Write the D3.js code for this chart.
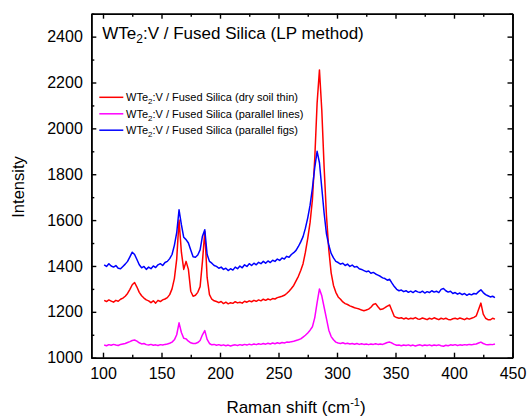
<!DOCTYPE html>
<html><head><meta charset="utf-8">
<script src="https://cdn.jsdelivr.net/npm/d3@7"></script>
<style>
body{margin:0;background:#fff;}
svg{display:block;font-family:Arial,"Liberation Sans",sans-serif;}
</style></head>
<body><svg id="c" width="528" height="417"></svg>
<script>
// Raman shift (cm-1) sampling points
const shift = [101,103,105,107,109,111,113,115,117,119,121,123,125,127,129,131,133,135,137,139,141,143,145,147,149,151,153,155,157,159,161,163,165,167,169,171,173,175,177,179,181,183,185,187,189,191,193,195,197,199,201,203,205,207,209,211,213,215,217,219,221,223,225,227,229,231,233,235,237,239,241,243,245,247,249,251,253,255,257,259,261,263,265,267,269,271,273,275,277,279,281,283,285,287,289,291,293,295,297,299,301,303,305,307,309,311,313,315,317,319,321,323,325,327,329,331,333,335,337,339,341,343,345,347,349,351,353,355,357,359,361,363,365,367,369,371,373,375,377,379,381,383,385,387,389,391,393,395,397,399,401,403,405,407,409,411,413,415,417,419,421,423,425,427,429,431,433,435];

const dryThin = [1250,1245,1252,1247,1242,1250,1246,1255,1260,1268,1280,1298,1318,1328,1308,1285,1270,1260,1252,1248,1240,1248,1238,1250,1245,1252,1256,1262,1275,1300,1345,1430,1600,1460,1385,1420,1385,1290,1268,1272,1285,1310,1420,1550,1350,1275,1255,1248,1245,1240,1245,1236,1242,1235,1240,1237,1244,1239,1242,1238,1246,1242,1248,1244,1250,1246,1252,1248,1255,1250,1256,1252,1258,1256,1262,1265,1268,1272,1280,1290,1302,1315,1335,1355,1380,1410,1460,1520,1590,1690,1870,2110,2255,2080,1830,1620,1470,1370,1315,1285,1265,1255,1243,1236,1232,1226,1222,1218,1215,1212,1208,1205,1208,1212,1220,1232,1236,1222,1210,1212,1218,1225,1230,1205,1180,1175,1172,1174,1169,1173,1168,1172,1170,1175,1169,1168,1173,1170,1166,1172,1168,1174,1170,1166,1172,1168,1172,1167,1165,1170,1172,1168,1173,1170,1166,1172,1168,1172,1176,1182,1210,1238,1190,1172,1166,1165,1172,1168];

const parLines = [1055,1052,1057,1054,1058,1055,1053,1058,1060,1062,1066,1070,1075,1077,1072,1065,1060,1062,1057,1055,1058,1054,1056,1053,1057,1055,1058,1060,1063,1068,1078,1100,1152,1110,1085,1082,1072,1065,1062,1062,1066,1075,1100,1118,1080,1062,1056,1058,1054,1057,1053,1056,1052,1055,1051,1054,1056,1053,1057,1054,1058,1055,1059,1056,1060,1057,1061,1058,1062,1059,1063,1060,1064,1061,1065,1062,1066,1064,1068,1067,1070,1072,1075,1078,1082,1090,1098,1108,1120,1135,1175,1240,1300,1270,1220,1170,1120,1092,1078,1068,1064,1062,1065,1061,1063,1060,1062,1059,1062,1058,1061,1058,1060,1057,1060,1058,1061,1058,1060,1058,1062,1066,1068,1064,1058,1054,1055,1052,1055,1053,1056,1052,1055,1051,1054,1056,1052,1055,1053,1056,1052,1055,1053,1056,1052,1050,1054,1052,1056,1054,1057,1053,1056,1054,1057,1055,1058,1056,1059,1060,1064,1068,1062,1058,1056,1058,1057,1060];

const parFigs = [1405,1398,1410,1400,1395,1402,1390,1388,1398,1408,1420,1440,1460,1450,1428,1405,1392,1398,1385,1395,1388,1400,1393,1405,1410,1402,1415,1420,1432,1450,1490,1545,1645,1580,1525,1515,1500,1470,1440,1438,1448,1470,1530,1558,1450,1420,1412,1402,1398,1390,1395,1385,1390,1380,1388,1382,1395,1388,1400,1392,1405,1398,1410,1402,1412,1405,1416,1410,1420,1412,1422,1415,1425,1420,1430,1424,1435,1430,1442,1438,1450,1458,1468,1485,1505,1528,1565,1610,1665,1740,1830,1900,1850,1740,1630,1540,1490,1455,1435,1420,1415,1408,1412,1402,1408,1398,1404,1395,1398,1388,1385,1380,1375,1378,1368,1372,1365,1360,1355,1348,1345,1338,1342,1325,1310,1298,1292,1295,1288,1292,1285,1290,1284,1292,1287,1284,1290,1282,1288,1284,1292,1286,1290,1284,1298,1302,1292,1286,1290,1280,1284,1277,1282,1275,1280,1272,1278,1274,1280,1278,1288,1296,1284,1275,1270,1265,1268,1262];

const seriesNames = ["(dry soil thin)", "(parallel lines)", "(parallel figs)"];
const seriesColors = ["#ff0000", "#ff00ff", "#0000ff"];
const xMajorTicks = [100,150,200,250,300,350,400,450];
const xMinorTicks = [125,175,225,275,325,375,425];
const yMajorTicks = [1000,1200,1400,1600,1800,2000,2200,2400];
const yMinorTicks = [1100,1300,1500,1700,1900,2100,2300,2500];

const svg = d3.select("#c");
const L = 91.3, R = 512.5, T = 13.7, B = 357.7;
const x = d3.scaleLinear().domain([90,450]).range([L,R]);
const y = d3.scaleLinear().domain([1000,2500]).range([B,T]);

// data lines
const all = [dryThin, parLines, parFigs];
const line = d3.line().x((d,i)=>x(shift[i])).y(d=>y(d));
const clip = svg.append("clipPath").attr("id","cp").append("rect")
  .attr("x",L).attr("y",T).attr("width",R-L).attr("height",B-T);
all.forEach((s,k)=>{
  svg.append("path").datum(s).attr("d",line)
    .attr("fill","none").attr("stroke",seriesColors[k])
    .attr("stroke-width",1.5).attr("stroke-linejoin","round")
    .attr("clip-path","url(#cp)");
});

// axes
function styleAxis(g){
  g.selectAll("path.domain").attr("stroke","#000").attr("stroke-width",1.6);
  g.selectAll(".tick line").attr("stroke","#000").attr("stroke-width",1.4);
  g.selectAll(".tick text").attr("fill","#000").style("font-size","16px").style("font-family","Arial,'Liberation Sans',sans-serif");
}
const gB = svg.append("g").attr("transform",`translate(0,${B})`)
  .call(d3.axisBottom(x).tickValues(xMajorTicks).tickSize(-5).tickSizeOuter(0).tickPadding(10).tickFormat(d3.format("d")));
styleAxis(gB);
const gBm = svg.append("g").attr("transform",`translate(0,${B})`)
  .call(d3.axisBottom(x).tickValues(xMinorTicks).tickSize(-3).tickSizeOuter(0).tickFormat(""));
styleAxis(gBm);
const gT = svg.append("g").attr("transform",`translate(0,${T})`)
  .call(d3.axisTop(x).tickValues(xMajorTicks).tickSize(-5).tickSizeOuter(0).tickFormat(""));
styleAxis(gT);
const gTm = svg.append("g").attr("transform",`translate(0,${T})`)
  .call(d3.axisTop(x).tickValues(xMinorTicks).tickSize(-3).tickSizeOuter(0).tickFormat(""));
styleAxis(gTm);
const gL = svg.append("g").attr("transform",`translate(${L},0)`)
  .call(d3.axisLeft(y).tickValues(yMajorTicks).tickSize(-5).tickSizeOuter(0).tickPadding(8.5).tickFormat(d3.format("d")));
styleAxis(gL);
const gLm = svg.append("g").attr("transform",`translate(${L},0)`)
  .call(d3.axisLeft(y).tickValues(yMinorTicks).tickSize(-3).tickSizeOuter(0).tickFormat(""));
styleAxis(gLm);
const gR = svg.append("g").attr("transform",`translate(${R},0)`)
  .call(d3.axisRight(y).tickValues(yMajorTicks).tickSize(-5).tickSizeOuter(0).tickFormat(""));
styleAxis(gR);
const gRm = svg.append("g").attr("transform",`translate(${R},0)`)
  .call(d3.axisRight(y).tickValues(yMinorTicks).tickSize(-3).tickSizeOuter(0).tickFormat(""));
styleAxis(gRm);

// axis titles
const xt = svg.append("text").attr("x",296).attr("y",413).attr("text-anchor","middle")
  .style("font-size","17px").attr("fill","#000");
xt.append("tspan").text("Raman shift (cm");
xt.append("tspan").attr("dy",-7).style("font-size","11px").text("-1");
xt.append("tspan").attr("dy",7).text(")");

svg.append("text").attr("transform","translate(24,187) rotate(-90)")
  .attr("text-anchor","middle").style("font-size","16.5px").attr("fill","#000").text("Intensity");

// chart title
const tt = svg.append("text").attr("x",102.3).attr("y",39.3).style("font-size","17px").attr("fill","#000");
tt.append("tspan").text("WTe");
tt.append("tspan").attr("dy",4).style("font-size","12px").text("2");
tt.append("tspan").attr("dy",-4).text(":V / Fused Silica (LP method)");

// legend
const legY = [97.3, 113.8, 130.2];
seriesNames.forEach((nm,k)=>{
  svg.append("line").attr("x1",99.3).attr("x2",123.3).attr("y1",legY[k]).attr("y2",legY[k])
    .attr("stroke",seriesColors[k]).attr("stroke-width",1.5);
  const t = svg.append("text").attr("x",126).attr("y",legY[k]+4).style("font-size","11px").attr("fill","#000");
  t.append("tspan").text("WTe");
  t.append("tspan").attr("dy",3).style("font-size","8px").text("2");
  t.append("tspan").attr("dy",-3).text(":V / Fused Silica " + nm);
});
</script>
</body></html>
